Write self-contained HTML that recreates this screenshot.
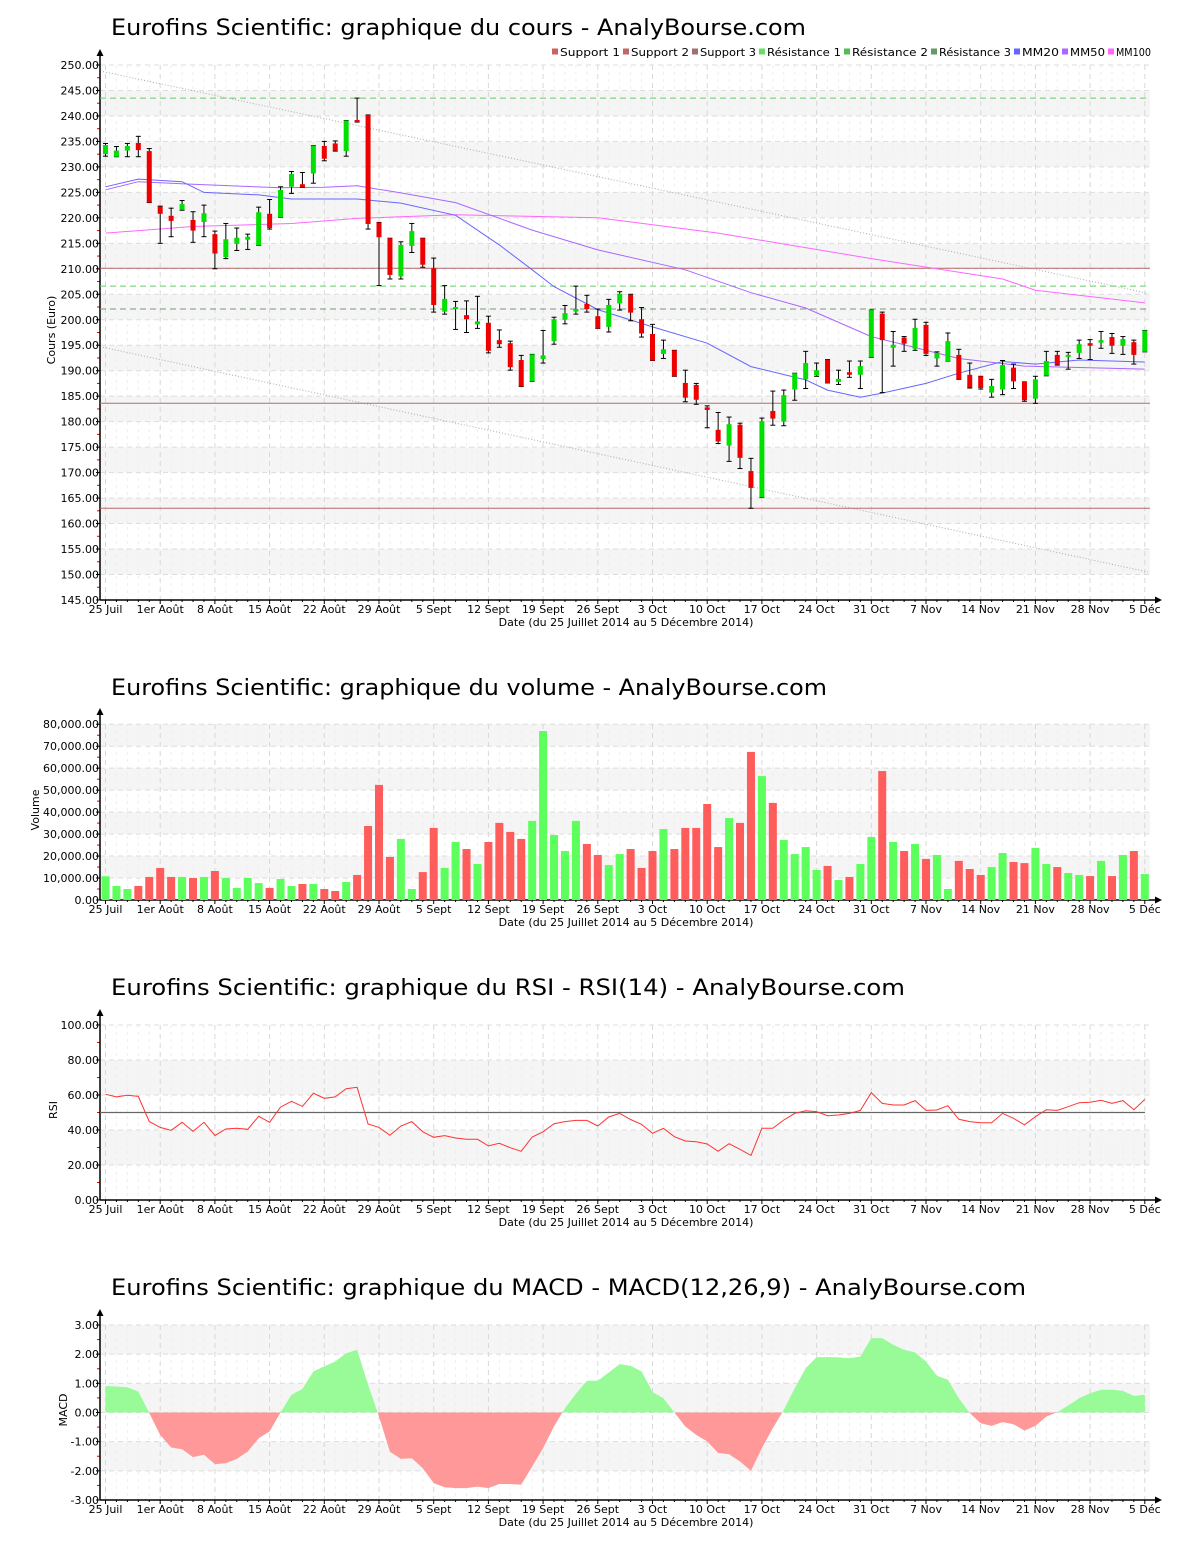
<!DOCTYPE html>
<html><head><meta charset="utf-8">
<style>
html,body{margin:0;padding:0;background:#fff;}
svg{display:block;font-family:"DejaVu Sans","Liberation Sans",sans-serif;}
</style></head>
<body>
<svg id="root" width="1200" height="1550" viewBox="0 0 1200 1550" xmlns="http://www.w3.org/2000/svg">
<defs>
<clipPath id="macdPos"><rect x="100" y="1300" width="1060" height="112.5"/></clipPath>
<clipPath id="macdNeg"><rect x="100" y="1412.5" width="1060" height="100"/></clipPath>
</defs>
</svg>
<script>
// ---------- DATA ----------
const dateLabels = ["25 Juil","1er Août","8 Août","15 Août","22 Août","29 Août","5 Sept","12 Sept","19 Sept","26 Sept","3 Oct","10 Oct","17 Oct","24 Oct","31 Oct","7 Nov","14 Nov","21 Nov","28 Nov","5 Déc"];
const openP  = [232.5,232,233.2,234.7,233.1,222.2,220.4,221.6,219.6,219.2,216.8,212.3,214.9,215.7,214.6,220.8,220.1,226.1,226.6,228.7,234.1,234.6,233.1,239.2,240.2,219.1,216,208.5,214.5,216,210.1,201.6,202.2,200.9,199.1,199.4,196,195.4,192.1,187.9,192.3,195.8,200,201.6,203.1,200.7,198.6,203.2,204.9,200.1,197.2,193.3,194,187.6,187.2,182.8,178.4,175.3,179.4,170.3,165.1,182.1,180,186.3,188.3,189.1,192.2,187.8,189.7,189.2,192.6,201.2,194.5,196.5,194.3,199,192.4,191.9,193.1,189.2,188.9,185.7,186.3,190.6,187.8,184.5,189,193.1,192.8,193.5,195.4,195.5,196.6,194.9,195.6,193.7];
const highP  = [234.6,234,234.6,236,233.6,222.3,221.9,223.4,221.2,222.5,217.4,218.9,218,216.8,222.1,223.6,226.1,229.1,228.9,234.2,235,235.1,239.1,243.5,240.2,219.1,216,215.3,218.9,216,212.1,206.7,203.6,203.7,204.6,200.7,198,195.8,193,193.2,197.9,200.5,202.8,206.6,204.8,202.1,204,205.5,205,202.4,199.1,196,194,190.1,187.5,183.1,181.8,180.9,179.7,172.8,180.7,186,186.2,189.5,193.8,191.5,192.2,190.1,191.9,191.9,201.9,201.5,197.7,196.7,200.1,199.5,193.7,197.4,194.2,191.5,188.9,188.3,192,191.3,187.8,188.9,193.8,193.8,193.6,196,196.1,197.7,197.3,196.7,196,197.9];
const lowP   = [232.1,232,232,232,223,215,216.3,221.5,215.2,216.3,210,212,213.6,213.8,214.6,217.8,220.1,224.8,226,226.8,231.2,233.1,232.1,238.8,217.8,206.7,208,208,213.2,210.3,201.5,201.1,198.1,197.5,198.3,193.5,194.6,190.1,186.9,187.9,191.5,195.2,199.2,201.1,201.5,198.3,197.6,201.9,199.8,196.6,192,192.4,188.9,183.9,183.4,178.8,175.7,172.2,170.8,163,165.1,179.3,179.2,184.2,186.5,188.9,187.6,187.3,188.7,186.5,192.6,185.7,190.9,193.8,194,193,190.9,191.9,188.3,186.6,186.4,184.8,185.3,186.5,184,183.6,189,191.1,190.3,192.4,192.2,194.4,193.4,193.2,191.3,193.7];
const closeP = [234.3,233.2,234.1,233.3,223,220.8,219.4,222.7,217.5,220.9,213,215.8,216.1,216.3,221.1,218,225.5,228.6,226,234.2,231.6,233.2,239.1,238.8,218.8,216.2,208.8,214.7,217.4,210.8,202.9,204.1,202.5,200.1,199.7,193.9,195.2,190.7,186.9,193.2,193,200.1,201.3,202.1,202.1,198.3,202.9,205.1,201.4,197.3,192,194.2,188.9,184.7,184.3,182.3,176.1,179.5,172.9,167,180.1,180.6,185.2,189.5,191.5,190.1,187.6,188.4,189.2,190.9,201.9,196,195.1,195.3,198.4,193.3,193.5,195.8,188.3,186.7,186.6,187,191.1,187.9,184.2,188.3,191.9,191.2,193.1,195.2,194.9,196,194.9,196.2,193.1,197.9];
const volumes = [10.8,6.4,5.0,6.4,10.5,14.6,10.5,10.5,10.0,10.5,13.2,10.0,5.5,10.0,7.7,5.5,9.6,6.4,7.3,7.3,5.0,4.1,8.2,11.4,33.7,52.4,19.6,27.8,5.0,12.7,32.8,14.6,26.4,23.2,16.4,26.4,35.1,31.0,27.8,36.0,76.9,29.6,22.3,36.0,25.5,20.5,15.9,20.9,23.2,14.6,22.3,32.3,23.2,32.8,32.8,43.7,24.1,37.3,35.1,67.4,56.4,44.2,27.3,20.9,24.1,13.7,15.5,9.1,10.5,16.4,28.7,58.7,26.4,22.3,25.5,18.7,20.5,5.0,17.8,14.1,11.4,15.0,21.4,17.3,16.8,23.7,16.4,15.0,12.3,11.4,10.9,17.8,10.9,20.5,22.3,11.8];
const rsiVals = [60.4,58.9,59.8,59.2,44.8,41.5,39.8,44.4,39.2,44.4,36.8,40.6,41.0,40.4,47.8,44.4,53.1,56.4,53.5,61.0,58.1,58.9,63.6,64.4,43.4,41.5,37.0,42.3,44.8,39.0,35.8,36.8,35.4,34.7,34.7,30.9,32.4,29.9,27.8,36.0,39.0,43.6,44.8,45.5,45.5,42.3,47.4,49.5,46,43.2,38.1,41.0,36.2,33.7,33.3,32.0,27.8,32.2,29.0,25.5,41.0,41.0,45.7,49.5,51.0,50.5,48.2,48.6,49.5,51.2,61.3,55.2,54.3,54.3,56.8,51.2,51.4,53.9,46.1,44.8,44.2,44.2,49.5,46.7,42.9,47.6,51.6,51.2,53.3,55.6,55.8,57.0,55.2,56.8,51.6,57.5];
const macdVals = [0.91,0.89,0.86,0.72,-0.02,-0.77,-1.2,-1.26,-1.53,-1.45,-1.77,-1.74,-1.59,-1.34,-0.88,-0.65,0,0.61,0.81,1.41,1.58,1.75,2.03,2.15,0.95,-0.14,-1.34,-1.59,-1.57,-1.91,-2.42,-2.56,-2.59,-2.59,-2.54,-2.59,-2.45,-2.45,-2.48,-1.85,-1.22,-0.48,0.15,0.64,1.09,1.09,1.37,1.66,1.6,1.41,0.70,0.49,0,-0.48,-0.77,-0.99,-1.39,-1.43,-1.68,-2.0,-1.22,-0.54,0.09,0.83,1.52,1.9,1.9,1.89,1.86,1.92,2.55,2.55,2.32,2.15,2.06,1.75,1.26,1.12,0.49,-0.02,-0.37,-0.46,-0.33,-0.40,-0.62,-0.46,-0.14,0.01,0.24,0.49,0.66,0.78,0.78,0.74,0.57,0.61];
const mm20Days = [0,3,7,9,14,17,23,27,32,36,39,41,45,50,55,59,64,66,69,71,75,78,82,85,89,95];
const mm20Vals = [226.1,227.6,227.1,225,224.5,223.7,223.7,222.9,220.5,214.7,209.8,206.5,202,198.6,195.4,190.8,188.2,186.2,184.8,185.6,187.5,189.5,191.8,191.3,192.1,191.7];
const mm50Days = [0,3,8,16,20,23,27,32,39,45,53,59,64,70,78,84,95];
const mm50Vals = [225.5,227.1,226.6,225.9,226,226.3,224.9,223,217.6,213.7,209.8,205.3,202.3,196.7,192.4,190.9,190.3];
const mm100Days = [0,8,17,23,32,45,56,70,82,85,95];
const mm100Vals = [217,218.3,218.9,219.9,220.6,220,217,212,208,205.8,203.3];
const supportLevels = [210.1,183.6,163];
const resistanceLevels = [243.5,206.6,202.1];
const trendUpper = [248.7,205.2];
const trendLower = [194.6,150.5];

// ---------- HELPERS ----------
const NS = "http://www.w3.org/2000/svg";
const root = document.getElementById('root');
const X0 = 100, X1 = 1150;
function xDay(i){ return 105.5 + i*10.94; }
function yP(v){ return 65 + (250 - v)*5.095; }
function yV(v){ return 900 - v*21.97; }
function yR(v){ return 1200 - v*1.75; }
function yM(v){ return 1412.5 - v*29.17; }
function mk(tag, attrs, parent){
  const e = document.createElementNS(NS, tag);
  for (const k in attrs) e.setAttribute(k, attrs[k]);
  (parent||root).appendChild(e);
  return e;
}
function txt(s, attrs, parent){ const e = mk('text', attrs, parent); e.textContent = s; return e; }

function panel(opt){
  const g = mk('g', {});
  
  
  for (let k=0;k<opt.ticks.length-1;k++){
    const a = opt.ticks[k], b = opt.ticks[k+1];
    if (opt.band(a)) {
      const r = mk('rect', {x:X0, y:opt.y(b), width:X1-X0, height:opt.y(a)-opt.y(b), fill:'#f5f5f5'}, g);
      
      
    }
  }
  for (let i=0;i<96;i++){
    if (i%5===0) continue;
    mk('line', {x1:xDay(i), x2:xDay(i), y1:opt.top, y2:opt.bottom, stroke:'#eeeeee', 'stroke-dasharray':'3,4'}, g);
  }
  for (let k=0;k<dateLabels.length;k++){
    const x = xDay(k*5);
    mk('line', {x1:x, x2:x, y1:opt.top, y2:opt.bottom, stroke:'#d8d8d8', 'stroke-dasharray':'5,4'}, g);
  }
  opt.ticks.forEach((t, k) => {
    const y = opt.y(t);
    mk('line', {x1:X0, x2:X1, y1:y, y2:y, stroke:'#dddddd', 'stroke-dasharray':'5,4'}, g);
    mk('line', {x1:96, x2:100, y1:y, y2:y, stroke:'#000'}, g);
    if (k < opt.ticks.length-1){
      const ym = (y + opt.y(opt.ticks[k+1]))/2;
      mk('line', {x1:97, x2:100, y1:ym, y2:ym, stroke:'#e00000'}, g);
    }
    const l = txt(opt.fmt(t), {x:99, y:y+4, 'text-anchor':'end', 'font-size':11, fill:'#000'}, g);
    
    
  });
  mk('line', {x1:100, x2:100, y1:opt.top-10, y2:opt.bottom, stroke:'#000', 'stroke-width':1.5}, g);
  mk('polygon', {points:`100,${opt.top-16} 96.5,${opt.top-9} 103.5,${opt.top-9}`, fill:'#000'}, g);
  mk('line', {x1:100, x2:1156, y1:opt.bottom, y2:opt.bottom, stroke:'#000', 'stroke-width':1.5}, g);
  mk('polygon', {points:`1162,${opt.bottom} 1155,${opt.bottom-3.5} 1155,${opt.bottom+3.5}`, fill:'#000'}, g);
  for (let i=0;i<96;i++){
    const x = xDay(i);
    mk('line', {x1:x, x2:x, y1:opt.bottom, y2:opt.bottom+(i%5===0?4:2), stroke:'#000'}, g);
  }
  dateLabels.forEach((s,k)=>{
    const l = txt(s, {x:xDay(k*5), y:opt.bottom+13, 'text-anchor':'middle', 'font-size':11, fill:'#000'}, g);
    
    
  });
  const dt = txt('Date (du 25 Juillet 2014 au 5 Décembre 2014)', {x:626, y:opt.bottom+26, 'text-anchor':'middle', 'font-size':11, fill:'#000'}, g);
  
  
  const yt = txt(opt.ytitle, {x:0, y:0, 'text-anchor':'middle', 'font-size':11, fill:'#000', transform:`translate(${opt.ytx},${opt.yty}) rotate(-90)`}, g);
  
  
  const tt = txt(opt.title, {x:111, y:opt.titleY, 'font-size':22, fill:'#000', textLength:opt.titleW, lengthAdjust:'spacingAndGlyphs'}, g);
  
  
  return g;
}
function range(a,b,s){ const r=[]; for(let v=a; v<=b+1e-9; v+=s) r.push(Math.round(v*100)/100); return r; }
function polyPts(days, vals, yf){ return days.map((d,i)=>xDay(d).toFixed(1)+','+yf(vals[i]).toFixed(1)).join(' '); }

// ---------- PRICE ----------
const gP = panel({name:'price-chart', ticks:range(145,250,5), y:yP, top:65, bottom:600,
  band:t=>(t%10===0), fmt:t=>t.toFixed(2), ytitle:'Cours (Euro)', ytx:55, yty:330,
  title:'Eurofins Scientific: graphique du cours - AnalyBourse.com', titleY:35, titleW:695});
[trendUpper, trendLower].forEach(tl=>{
  const l = mk('line', {x1:103, y1:yP(tl[0]), x2:xDay(95)+3, y2:yP(tl[1]), stroke:'#aaaaaa', 'stroke-dasharray':'1,2'}, gP);
  
  
});
supportLevels.forEach(v=>{
  const l = mk('line', {x1:X0, x2:X1, y1:yP(v), y2:yP(v), stroke:'#b86a6a', 'stroke-width':1}, gP);
  
  
});
const resColors = ['#66cc66','#66cc66','#779977'];
resistanceLevels.forEach((v,k)=>{
  const l = mk('line', {x1:X0, x2:X1, y1:yP(v), y2:yP(v), stroke:resColors[k], 'stroke-dasharray':'6,4'}, gP);
  
  
});
[[mm100Days,mm100Vals,'#ff66ff','mm100-line'],[mm50Days,mm50Vals,'#aa66ff','mm50-line'],[mm20Days,mm20Vals,'#6666ff','mm20-line']].forEach(m=>{
  const l = mk('polyline', {points:polyPts(m[0],m[1],yP), fill:'none', stroke:m[2], 'stroke-width':1}, gP);
  
  
});
for (let i=0;i<openP.length;i++){
  const x = xDay(i);
  const c = mk('g', {}, gP);
  
  
  mk('line', {x1:x, x2:x, y1:yP(highP[i]), y2:yP(lowP[i]), stroke:'#000'}, c);
  mk('line', {x1:x-2.5, x2:x+2.5, y1:yP(highP[i]), y2:yP(highP[i]), stroke:'#000'}, c);
  mk('line', {x1:x-2.5, x2:x+2.5, y1:yP(lowP[i]), y2:yP(lowP[i]), stroke:'#000'}, c);
  const up = closeP[i] >= openP[i];
  const yt = yP(Math.max(openP[i],closeP[i])), yb = yP(Math.min(openP[i],closeP[i]));
  mk('rect', {x:x-2.5, y:yt, width:5, height:Math.max(2, yb-yt), fill: up?'#00e000':'#ee0000'}, c);
}
// legend
const legendItems = [['Support 1','#d06060',552],['Support 2','#c06868',623],['Support 3','#a07070',692],['Résistance 1','#66dd66',759],['Résistance 2','#55bb55',844],['Résistance 3','#669966',931],['MM20','#6666ff',1014],['MM50','#aa66ff',1062],['MM100','#ff66ff',1108]];
legendItems.forEach((it,k)=>{
  const g = mk('g', {}, gP);
  
  
  mk('rect', {x:it[2], y:48.5, width:6, height:6, fill:it[1]}, g);
  const w = k < legendItems.length-1 ? legendItems[k+1][2] - it[2] - 11 : 35;
  txt(it[0], {x:it[2]+8, y:56, 'font-size':11, fill:'#000', textLength:w, lengthAdjust:'spacingAndGlyphs'}, g);
});

// ---------- VOLUME ----------
const gV = panel({name:'volume-chart', ticks:range(0,8,1), y:yV, top:724, bottom:900,
  band:t=>(t%2===1), fmt:t=>(t*10000).toLocaleString('en-US')+'.00', ytitle:'Volume', ytx:39, yty:810,
  title:'Eurofins Scientific: graphique du volume - AnalyBourse.com', titleY:695, titleW:716});
for (let i=0;i<volumes.length;i++){
  const up = closeP[i] >= openP[i];
  const v = volumes[i]/10;
  const b = mk('rect', {x:xDay(i)-4, y:yV(v), width:8, height:900-yV(v), fill: up?'#5cff5c':'#ff5c5c'}, gV);
  
  
}

// ---------- RSI ----------
const gR = panel({name:'rsi-chart', ticks:range(0,100,20), y:yR, top:1025, bottom:1200,
  band:t=>(t===20||t===60), fmt:t=>t.toFixed(2), ytitle:'RSI', ytx:57, yty:1110,
  title:'Eurofins Scientific: graphique du RSI - RSI(14) - AnalyBourse.com', titleY:995, titleW:794});
const r50 = mk('line', {x1:X0, x2:1145, y1:yR(50), y2:yR(50), stroke:'#666', 'stroke-width':1.2}, gR);


const rl = mk('polyline', {points:rsiVals.map((v,i)=>xDay(i).toFixed(1)+','+yR(v).toFixed(1)).join(' '), fill:'none', stroke:'#ff3333', 'stroke-width':1}, gR);



// ---------- MACD ----------
const gM = panel({name:'macd-chart', ticks:range(-3,3,1), y:yM, top:1325, bottom:1500,
  band:t=>(t===2||t===0||t===-2), fmt:t=>t.toFixed(2), ytitle:'MACD', ytx:67, yty:1410,
  title:'Eurofins Scientific: graphique du MACD - MACD(12,26,9) - AnalyBourse.com', titleY:1295, titleW:915});
const areaPts = xDay(0).toFixed(1)+','+yM(0)+' '+macdVals.map((v,i)=>xDay(i).toFixed(1)+','+yM(v).toFixed(1)).join(' ')+' '+xDay(95).toFixed(1)+','+yM(0);
const pa = mk('polygon', {points:areaPts, fill:'#98fb98', 'clip-path':'url(#macdPos)'}, gM);


const na = mk('polygon', {points:areaPts, fill:'#ff9999', 'clip-path':'url(#macdNeg)'}, gM);


</script>
</body></html>
